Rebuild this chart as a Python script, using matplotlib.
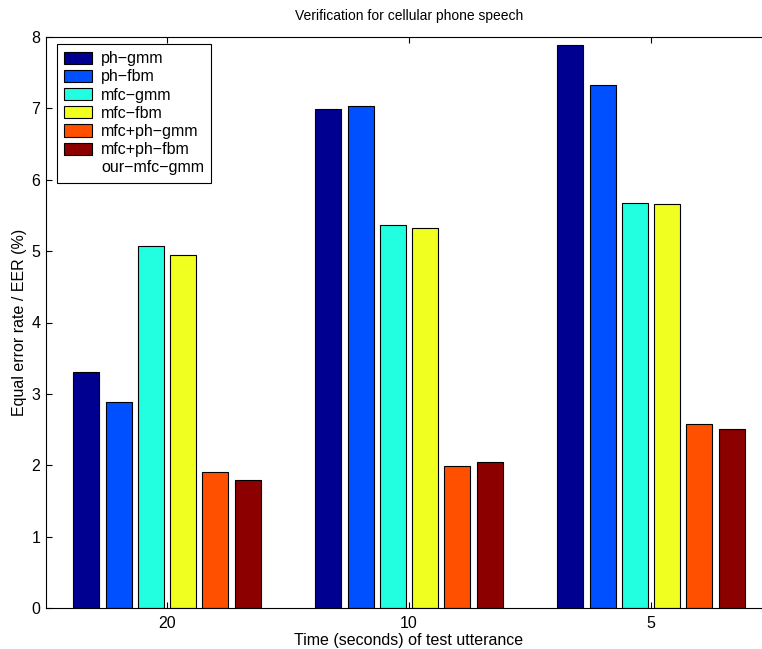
import numpy as np
import matplotlib.pyplot as plt
from matplotlib.patches import Patch

plt.rcParams['font.family'] = ['Liberation Sans', 'DejaVu Sans']

# donnees
durees = ['20', '10', '5']
series = ['ph\u2212gmm', 'ph\u2212fbm', 'mfc\u2212gmm', 'mfc\u2212fbm', 'mfc+ph\u2212gmm', 'mfc+ph\u2212fbm']
ph_gmm = [3.31, 6.99, 7.89]
ph_fbm = [2.88, 7.03, 7.33]
mfc_gmm = [5.07, 5.37, 5.68]
mfc_fbm = [4.94, 5.33, 5.66]
mfc_ph_gmm = [1.91, 1.99, 2.58]
mfc_ph_fbm = [1.79, 2.04, 2.51]
vide = 'our\u2212mfc\u2212gmm'  # entree de legende sans barre

couleurs = ['#000090', '#0050ff', '#22ffe0', '#f0ff20', '#ff5000', '#8c0000']
valeurs = [ph_gmm, ph_fbm, mfc_gmm, mfc_fbm, mfc_ph_gmm, mfc_ph_fbm]

fig = plt.figure(figsize=(7.62, 6.49), dpi=100)
ax = fig.add_axes([46/762, 41/649, (772-46)/762, (608-37)/649])

x = np.arange(1, len(durees) + 1)
n = len(series)
pas = 0.8 / n   # largeur du groupe facon matlab
larg = 0.8 * pas

handles = []
for i, (nom, v, c) in enumerate(zip(series, valeurs, couleurs)):
    off = (i - (n - 1) / 2) * pas
    b = ax.bar(x + off, v, width=larg, color=c, edgecolor='black', linewidth=0.8, label=nom)
    handles.append(b)
handles.append(Patch(facecolor='none', edgecolor='none', label=vide))

ax.set_xlim(0.5, 3.5)
ax.set_ylim(0, 8)
ax.set_xticks(x)
ax.set_xticklabels(durees)
ax.set_yticks(range(0, 9))
ax.tick_params(direction='in', top=True, right=True, length=4, width=0.8, labelsize=11.5)
ax.tick_params(axis='x', pad=6)
ax.tick_params(axis='y', pad=4)
for s in ax.spines.values():
    s.set_linewidth(0.8)
ax.spines['right'].set_visible(False)

ax.set_title("Verification for cellular phone speech", fontsize=10, pad=12)
ax.set_xlabel("Time (seconds) of test utterance", fontsize=11.5, labelpad=1)
ax.set_ylabel("Equal error rate / EER (%)", fontsize=11.5, labelpad=3)

leg = ax.legend(handles=handles, labels=series + [vide], loc='upper left',
                bbox_to_anchor=(57/762, 1 - 44/649), bbox_transform=fig.transFigure,
                borderaxespad=0, fontsize=11.5, handlelength=1.75, handleheight=0.8,
                handletextpad=0.56, labelspacing=0.2, borderpad=0.45,
                fancybox=False, framealpha=1, edgecolor='black')
leg.get_frame().set_linewidth(0.8)

fig.savefig("out.png", dpi=100)
